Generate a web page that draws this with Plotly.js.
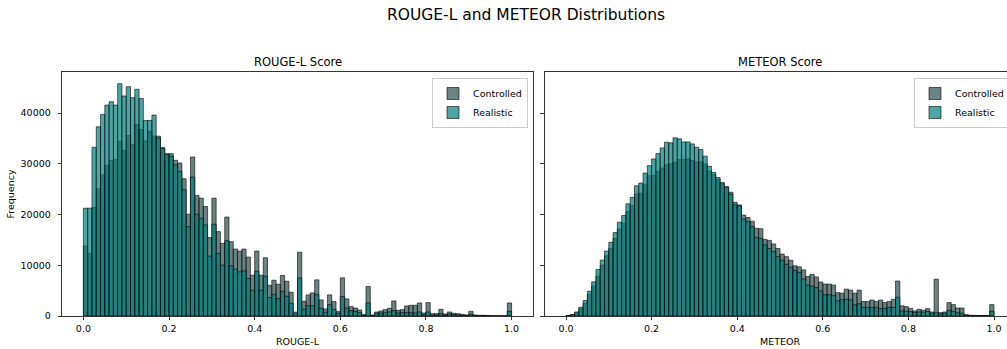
<!DOCTYPE html>
<html>
<head>
<meta charset="utf-8">
<script src="https://cdn.plot.ly/plotly-3.0.1.min.js"></script>
<style>
  html, body { margin: 0; padding: 0; overflow: hidden; background: #fff; }
  #chart { width: 1016px; height: 349px; }
</style>
</head>
<body>
<div id="chart"></div>
<script>
// ---- Data (histogram counts, 100 bins of width 0.01 on [0, 1]) ----
const binStart = 0.0;
const binWidth = 0.01;
const seriesNames = ["Controlled", "Realistic"];
const subplotTitles = ["ROUGE-L Score", "METEOR Score"];
const xAxisTitles = ["ROUGE-L", "METEOR"];
const xTickValues = [0, 0.2, 0.4, 0.6, 0.8, 1.0];
const yTickValues = [0, 10000, 20000, 30000, 40000];

const rougeControlled = [
  13800, 12350, 21390, 25080, 27850, 29700, 30630, 30830, 34460, 32670,
  35580, 33800, 37760, 36770, 34500, 36430, 35450, 35450, 33200, 32000,
  32000, 30700, 30160, 27060, 20070, 31350, 23760, 23230, 21580, 15450,
  23230, 16630, 14320, 19500, 14650, 13200, 12800, 13200, 11620, 8050,
  12800, 8050, 11490, 6070, 7060, 6270, 7990, 6860, 4690, 760,
  12570, 2900, 4160, 4550, 7130, 3170, 1390, 4160, 2840, 860,
  7520, 3370, 1850, 1580, 1190, 260, 5810, 200, 790, 990,
  1250, 1520, 2970, 1120, 1250, 1980, 2110, 2110, 2570, 590,
  2640, 460, 460, 1320, 400, 790, 530, 460, 330, 200,
  920, 200, 130, 130, 70, 30, 20, 20, 20, 2570
];
const rougeRealistic = [
  21250, 21250, 33270, 37290, 39740, 41580, 42240, 41580, 45800, 43370,
  45210, 43040, 44690, 42900, 38550, 38550, 39600, 35100, 33000, 31800,
  31480, 29830, 28510, 24880, 17620, 27390, 20070, 19270, 17950, 11810,
  18090, 12340, 10030, 14850, 9900, 9240, 8710, 8910, 7390, 5080,
  8840, 5080, 7850, 3630, 4290, 3430, 4880, 3890, 2510, 450,
  7500, 1320, 2050, 2050, 4220, 1520, 730, 2240, 1320, 530,
  3830, 1580, 1060, 920, 660, 130, 2570, 70, 530, 590,
  660, 790, 1060, 590, 660, 660, 660, 590, 790, 260,
  790, 200, 200, 460, 200, 400, 260, 200, 130, 100,
  330, 100, 60, 60, 30, 10, 10, 10, 10, 920
];
const meteorControlled = [
  100, 250, 650, 1500, 2510, 4290, 5870, 7850, 10030, 11880,
  13330, 15310, 17160, 18280, 20590, 21780, 24030, 24220, 25870, 27660,
  27720, 28510, 29170, 29830, 30030, 30300, 30830, 30830, 30960, 30630,
  30360, 30400, 30000, 28600, 27900, 27000, 26100, 25500, 24400, 22400,
  21900, 19900, 19400, 18700, 17300, 17200, 15100, 14900, 14200, 13300,
  12200, 11700, 11000, 9900, 9700, 9100, 7800, 8200, 7700, 6700,
  6300, 6300, 6100, 4600, 4500, 5300, 5100, 4500, 5100, 2850,
  2850, 3150, 2850, 3150, 2650, 2850, 3300, 6900, 2000, 1850,
  1500, 1000, 1320, 1120, 1450, 790, 7260, 660, 790, 2640,
  2240, 1580, 1580, 260, 150, 120, 100, 100, 100, 2240
];
const meteorRealistic = [
  100, 300, 800, 1700, 3040, 4880, 6730, 9170, 11020, 12800,
  14520, 16440, 18480, 19800, 22110, 23370, 25680, 26200, 28180, 29640,
  30960, 32010, 33140, 34260, 34130, 35120, 34920, 34320, 34320, 33930,
  33270, 32800, 31500, 29500, 28300, 27300, 26300, 25400, 24000, 21900,
  21700, 19100, 18600, 17600, 15500, 15300, 14000, 13300, 12700, 11700,
  11000, 10200, 9600, 9000, 8600, 7300, 6100, 5900, 5600, 4950,
  4200, 4200, 4000, 3000, 3200, 3300, 3200, 2200, 2400, 1700,
  1700, 1650, 1700, 1500, 1500, 1700, 1700, 3700, 1000, 950,
  850, 700, 800, 750, 900, 500, 650, 450, 500, 1100,
  900, 650, 550, 150, 80, 60, 60, 50, 50, 920
];

// ---- Build chart ----
const centers = rougeControlled.map((_, i) => binStart + (i + 0.5) * binWidth);
const colors = { Controlled: "rgba(47,79,79,0.7)", Realistic: "rgba(0,128,128,0.7)" };

function barTrace(name, values, xa, ya, legendId) {
  return {
    type: "bar",
    name: name,
    x: centers,
    y: values,
    width: binWidth,
    xaxis: xa,
    yaxis: ya,
    legend: legendId,
    marker: {
      color: colors[name],
      line: { color: "rgba(0,0,0,0.75)", width: 0.8 }
    },
    hoverinfo: "x+y+name"
  };
}

const data = [
  barTrace(seriesNames[0], rougeControlled, "x", "y", "legend"),
  barTrace(seriesNames[1], rougeRealistic, "x", "y", "legend"),
  barTrace(seriesNames[0], meteorControlled, "x2", "y2", "legend2"),
  barTrace(seriesNames[1], meteorRealistic, "x2", "y2", "legend2")
];

const W = 1016, H = 349;
const mL = 62, mR = 0, mT = 72, mB = 33;
const pw = W - mL - mR, ph = H - mT - mB;
const px = v => (v - mL) / pw;        // pixel -> paper x
const py = v => (H - mB - v) / ph;    // pixel -> paper y

const font = "DejaVu Sans, Verdana, sans-serif";
const baseAxis = {
  showgrid: false,
  zeroline: false,
  showline: true,
  mirror: true,
  linecolor: "#000",
  linewidth: 0.8,
  ticks: "outside",
  ticklen: 3.5,
  tickwidth: 0.8,
  tickcolor: "#000",
  tickfont: { family: font, size: 9.5, color: "#000" }
};
const xRange = [-0.05, 1.05];
const yRange = [0, 48100];

const legendBase = {
  bgcolor: "rgba(255,255,255,0.8)",
  bordercolor: "#cccccc",
  borderwidth: 1,
  font: { family: font, size: 9.5, color: "#000" },
  xanchor: "right",
  yanchor: "top",
  traceorder: "normal",
  tracegroupgap: 0,
  itemwidth: 30,
  itemclick: false,
  itemdoubleclick: false
};

const layout = {
  width: W,
  height: H,
  margin: { l: mL, r: mR, t: mT, b: mB, pad: 0 },
  paper_bgcolor: "#fff",
  plot_bgcolor: "#fff",
  barmode: "overlay",
  bargap: 0,
  showlegend: true,
  font: { family: font, color: "#000" },
  xaxis: Object.assign({}, baseAxis, {
    domain: [0, px(533)],
    range: xRange,
    tickvals: xTickValues,
    tickformat: ".1f",
    anchor: "y",
    title: { text: xAxisTitles[0], font: { family: font, size: 9.5 }, standoff: 5 }
  }),
  yaxis: Object.assign({}, baseAxis, {
    domain: [0, 1],
    range: yRange,
    tickvals: yTickValues,
    tickformat: "d",
    ticklabelstandoff: 5,
    anchor: "x",
    title: { text: "Frequency", font: { family: font, size: 9.5 }, standoff: 4 }
  }),
  xaxis2: Object.assign({}, baseAxis, {
    domain: [px(544.6), px(1015.4)],
    range: xRange,
    tickvals: xTickValues,
    tickformat: ".1f",
    anchor: "y2",
    title: { text: xAxisTitles[1], font: { family: font, size: 9.5 }, standoff: 5 }
  }),
  yaxis2: Object.assign({}, baseAxis, {
    domain: [0, 1],
    range: yRange,
    tickvals: yTickValues,
    showticklabels: false,
    anchor: "x2"
  }),
  legend: Object.assign({}, legendBase, { x: px(528), y: py(78) }),
  legend2: Object.assign({}, legendBase, { x: px(1010), y: py(78) }),
  annotations: [
    { text: "ROUGE-L and METEOR Distributions", xref: "paper", yref: "paper",
      x: px(526), y: py(15), xanchor: "center", yanchor: "middle", showarrow: false,
      font: { family: font, size: 15.5, color: "#000" } },
    { text: subplotTitles[0], xref: "paper", yref: "paper",
      x: px(297.5), y: py(62), xanchor: "center", yanchor: "middle", showarrow: false,
      font: { family: font, size: 11.5, color: "#000" } },
    { text: subplotTitles[1], xref: "paper", yref: "paper",
      x: px(780), y: py(62), xanchor: "center", yanchor: "middle", showarrow: false,
      font: { family: font, size: 11.5, color: "#000" } }
  ]
};

Plotly.newPlot("chart", data, layout, { displayModeBar: false, staticPlot: true });
</script>
</body>
</html>
